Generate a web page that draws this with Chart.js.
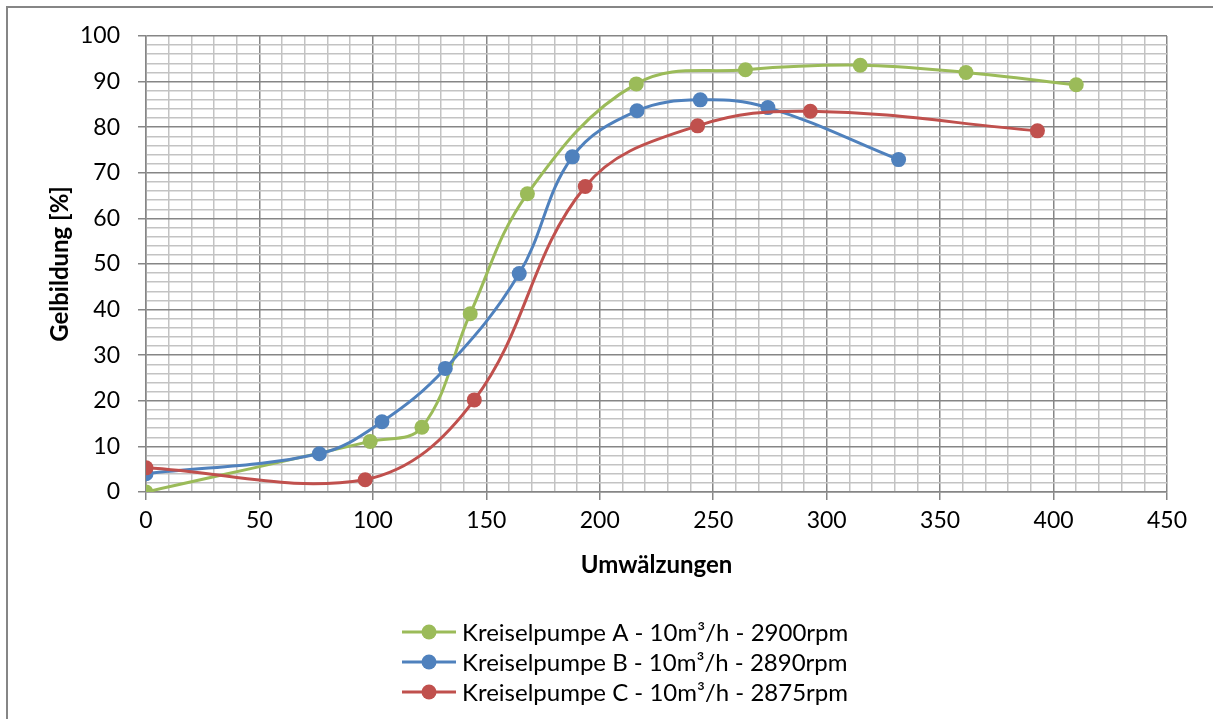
<!DOCTYPE html>
<html>
<head>
<meta charset="utf-8">
<script src="https://cdn.jsdelivr.net/npm/chart.js@4.4.1/dist/chart.umd.min.js"></script>
<style>
  html, body { margin: 0; padding: 0; background: #fff; }
  #wrap { width: 1213px; height: 719px; }
</style>
</head>
<body>
<div id="wrap"><canvas id="c" width="1213" height="719"></canvas></div>
<script>
/* values */
const seriesNames = [
  "Kreiselpumpe A - 10m³/h - 2900rpm",
  "Kreiselpumpe B - 10m³/h - 2890rpm",
  "Kreiselpumpe C - 10m³/h - 2875rpm"
];
const xA = [0, 98.8, 121.6, 142.9, 168.1, 216.1, 264.2, 314.8, 361.4, 410.0];
const yA = [0, 11.1, 14.2, 39.1, 65.4, 89.5, 92.6, 93.6, 92.0, 89.3];
const xB = [0, 76.4, 104.0, 131.9, 164.5, 187.9, 216.4, 244.3, 274.1, 331.7];
const yB = [4.0, 8.4, 15.4, 27.1, 47.9, 73.5, 83.6, 86.0, 84.3, 72.9];
const xC = [0, 96.6, 144.7, 193.6, 243.1, 292.8, 392.9];
const yC = [5.3, 2.7, 20.2, 67.0, 80.3, 83.5, 79.2];

const colors = ["#9bbb59", "#4f81bd", "#c0504d"];
const majorGrid = "#868686";
const minorGrid = "#c3c3c3";
const fontFamily = "Lato, 'Liberation Sans', sans-serif";

function pts(xs, ys) {
  return xs.map((x, i) => ({ x: x, y: ys[i] }));
}

function makeSet(i, data, order) {
  return {
    label: seriesNames[i],
    data: data,
    borderColor: colors[i],
    backgroundColor: colors[i],
    pointBackgroundColor: colors[i],
    pointBorderColor: colors[i],
    borderWidth: 3,
    pointRadius: 7.5,
    pointBorderWidth: 0,
    tension: 0.38,
    fill: false,
    order: order
  };
}

/* frame round the whole chart */
const framePlugin = {
  id: "frame",
  beforeDraw(chart) {
    const ctx = chart.ctx;
    ctx.save();
    ctx.fillStyle = "#fff";
    ctx.fillRect(0, 0, chart.width, chart.height);
    ctx.strokeStyle = majorGrid;
    ctx.lineWidth = 2;
    ctx.strokeRect(7, 7, chart.width + 20, chart.height + 20);
    ctx.restore();
  }
};

/* legend stacked in one column below the axis title */
const stackLegend = {
  id: "stackLegend",
  afterDraw(chart) {
    const ctx = chart.ctx;
    const top = chart.chartArea.bottom + 140;
    const lineX0 = 402, lineX1 = 456, textX = 462, rowH = 30;
    ctx.save();
    ctx.font = "24px " + fontFamily;
    ctx.textBaseline = "middle";
    chart.data.datasets.forEach((ds, i) => {
      const y = top + i * rowH;
      ctx.strokeStyle = ds.borderColor;
      ctx.lineWidth = 3;
      ctx.beginPath();
      ctx.moveTo(lineX0, y);
      ctx.lineTo(lineX1, y);
      ctx.stroke();
      ctx.fillStyle = ds.borderColor;
      ctx.beginPath();
      ctx.arc((lineX0 + lineX1) / 2, y, 7.5, 0, Math.PI * 2);
      ctx.fill();
      ctx.fillStyle = "#000";
      ctx.fillText(ds.label, textX, y + 1);
    });
    ctx.restore();
  }
};

const config = {
  type: "line",
  data: {
    datasets: [
      makeSet(0, pts(xA, yA), 3),
      makeSet(1, pts(xB, yB), 2),
      makeSet(2, pts(xC, yC), 1)
    ]
  },
  options: {
    responsive: false,
    animation: false,
    devicePixelRatio: 1,
    layout: { padding: { left: 40, top: 36, right: 46, bottom: 137 } },
    scales: {
      x: {
        type: "linear",
        min: 0,
        max: 450,
        afterFit: (s) => { s.height = 90; },
        ticks: {
          stepSize: 10,
          autoSkip: false,
          maxRotation: 0,
          padding: 7,
          color: "#000",
          font: { family: fontFamily, size: 23 },
          callback: (v) => (v % 50 === 0 ? v : "")
        },
        grid: {
          color: (c) => (c.tick && c.tick.value % 50 === 0 ? majorGrid : minorGrid),
          tickColor: (c) => (c.tick && c.tick.value % 50 === 0 ? majorGrid : "rgba(0,0,0,0)"),
          lineWidth: 1.5,
          tickLength: 8
        },
        border: { color: majorGrid, width: 1.5 },
        title: {
          display: true,
          text: "Umwälzungen",
          color: "#000",
          font: { family: fontFamily, size: 24, weight: "bold" },
          padding: { top: 0, bottom: 2 }
        }
      },
      y: {
        min: 0,
        max: 100,
        afterFit: (s) => { s.width = 106; },
        ticks: {
          stepSize: 2,
          autoSkip: false,
          padding: 18,
          color: "#000",
          font: { family: fontFamily, size: 23 },
          callback: (v) => (v % 10 === 0 ? v : "")
        },
        grid: {
          color: (c) => (c.tick && c.tick.value % 10 === 0 ? majorGrid : minorGrid),
          tickColor: (c) => (c.tick && c.tick.value % 10 === 0 ? majorGrid : "rgba(0,0,0,0)"),
          lineWidth: 1.5,
          tickLength: 8
        },
        border: { color: majorGrid, width: 1.5 },
        title: {
          display: true,
          text: "Gelbildung [%]",
          color: "#000",
          font: { family: fontFamily, size: 24, weight: "bold" },
          padding: { top: 6, bottom: 0 }
        }
      }
    },
    plugins: {
      legend: { display: false },
      title: { display: false },
      tooltip: { enabled: false }
    }
  },
  plugins: [framePlugin, stackLegend]
};

const chart = new Chart(document.getElementById("c"), config);
</script>
</body>
</html>
